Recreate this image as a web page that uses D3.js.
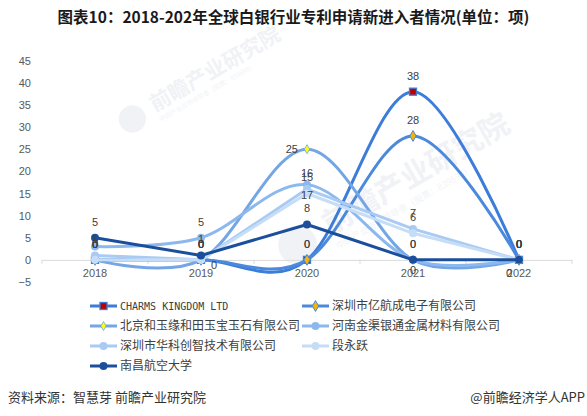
<!DOCTYPE html>
<html>
<head>
<meta charset="utf-8">
<script src="https://cdn.jsdelivr.net/npm/d3@7"></script>
<style>
  body { margin: 0; background: #fff; }
  svg { display: block; }
</style>
</head>
<body>
<div class="svgContainer"></div>
<script>
// Statics
var YEARS = ["2018", "2019", "2020", "2021", "2022"];
var Y_TICKS = [-5, 0, 5, 10, 15, 20, 25, 30, 35, 40, 45];
var NAMES = ["CHARMS KINGDOM LTD", "深圳市亿航成电子有限公司", "北京和玉缘和田玉宝玉石有限公司",
    "河南金渠银通金属材料有限公司", "深圳市华科创智技术有限公司", "段永跃", "南昌航空大学"];

// one array per applicant, values per year
var charms   = [0, 0, 0, 38, 0];
var yihang   = [0, 0, 0, 28, 0];
var beijing  = [0, 0, 25, 0, 0];
var henan    = [3, 5, 17, 0, 0];
var huake    = [1, 0, 16, 7, 0];
var duan     = [0, 0, 15, 6, 0];
var nanchang = [5, 1, 8, 0, 0];

// where the data label sits: t top, b bottom, l left, r right, bl bottom-left, "" none
var charmsLbl   = ["t", "t", "t", "t", "t"];
var yihangLbl   = ["t", "r", "t", "t", "t"];
var beijingLbl  = ["t", "t", "l", "b", "bl"];
var henanLbl    = ["", "t", "b", "t", "t"];
var huakeLbl    = ["t", "t", "t", "t", "t"];
var duanLbl     = ["t", "t", "t", "t", "t"];
var nanchangLbl = ["t", "t", "t", "t", "t"];
// End statics

var series = [
    {name: NAMES[0], values: charms, lbl: charmsLbl, color: "#3b7dd8", marker: "square", fill: "#c00000", smooth: true},
    {name: NAMES[1], values: yihang, lbl: yihangLbl, color: "#4a89dc", marker: "diamond", fill: "#f2b500", smooth: true},
    {name: NAMES[2], values: beijing, lbl: beijingLbl, color: "#74a6e6", marker: "dot", fill: "#ffff00", smooth: true},
    {name: NAMES[3], values: henan, lbl: henanLbl, color: "#8bb8ee", marker: "circle", fill: "#8bb8ee", smooth: true},
    {name: NAMES[4], values: huake, lbl: huakeLbl, color: "#a8caf3", marker: "circle", fill: "#a8caf3", smooth: false},
    {name: NAMES[5], values: duan, lbl: duanLbl, color: "#c6ddf8", marker: "circle", fill: "#c6ddf8", smooth: false},
    {name: NAMES[6], values: nanchang, lbl: nanchangLbl, color: "#1b4f9c", marker: "circle", fill: "#1b4f9c", smooth: false}
];

var W = 587, H = 416;
var svg = d3.select(".svgContainer").append("svg")
    .attr("width", W)
    .attr("height", H)
    .style("font-family", "'Liberation Sans', Arial, sans-serif");

svg.append("rect").attr("width", W).attr("height", H).attr("fill", "#fff");

// faint watermark
function watermark(x, y, size) {
    var g = svg.append("g").attr("transform", "translate(" + x + "," + y + ") rotate(-30)");
    g.append("circle").attr("cx", -size * 1.1).attr("cy", -size * 0.25).attr("r", size * 0.65).attr("fill", "#f0f2f6");
    g.append("text").attr("font-family", "'Noto Sans CJK SC', sans-serif")
        .attr("font-size", size).attr("font-weight", "bold").attr("fill", "#f0f2f6")
        .text("前瞻产业研究院");
    g.append("text").attr("y", size * 0.55).attr("font-family", "'Noto Sans CJK SC', sans-serif")
        .attr("font-size", size * 0.3).attr("fill", "#f2f4f7")
        .text("中国产业咨询领导者（股票：839599）");
}
watermark(155, 112, 21);
watermark(330, 235, 30);

// Title
svg.append("text")
    .attr("x", W / 2)
    .attr("y", 23)
    .attr("text-anchor", "middle")
    .attr("font-family", "'Noto Sans CJK SC', sans-serif")
    .attr("font-size", 15.5)
    .attr("font-weight", "bold")
    .attr("fill", "#1a1a1a")
    .text("图表10：2018-202年全球白银行业专利申请新进入者情况(单位：项)");

// Scales
var x = d3.scaleBand()
    .domain(YEARS)
    .range([42, 572])
    .padding(0);
var bw = x.bandwidth();
function cx(i) { return x(YEARS[i]) + bw / 2; }

var y = d3.scaleLinear()
    .domain([-5, 45])
    .range([282, 60.7]);

// Y axis (labels only)
var yAxis = svg.append("g")
    .attr("transform", "translate(42,0)")
    .call(d3.axisLeft(y).tickValues(Y_TICKS).tickSize(0).tickPadding(11));
yAxis.select(".domain").remove();
yAxis.selectAll("text")
    .attr("font-family", "'Liberation Sans', Arial, sans-serif")
    .attr("font-size", 11)
    .attr("fill", "#595959");

// X axis at y = 0
var xAxis = svg.append("g")
    .attr("transform", "translate(0," + y(0) + ")")
    .call(d3.axisBottom(x).tickSize(0).tickPadding(9));
xAxis.select(".domain").attr("stroke", "#d9d9d9");
xAxis.selectAll("text")
    .attr("font-family", "'Liberation Sans', Arial, sans-serif")
    .attr("font-size", 11)
    .attr("fill", "#595959");
var edges = YEARS.map(function(d) { return x(d); }).concat([x.range()[1]]);
svg.append("g").selectAll("line")
    .data(edges)
    .enter().append("line")
    .attr("x1", function(d) { return d; })
    .attr("x2", function(d) { return d; })
    .attr("y1", y(0))
    .attr("y2", y(0) + 4)
    .attr("stroke", "#d9d9d9");

// Lines
var smoothLine = d3.line()
    .x(function(d, i) { return cx(i); })
    .y(function(d) { return y(d); })
    .curve(d3.curveCardinal.tension(0));
var straightLine = d3.line()
    .x(function(d, i) { return cx(i); })
    .y(function(d) { return y(d); });

function drawMarker(g, s, px, py) {
    if (s.marker == "square") {
        g.append("rect").attr("x", px - 3.5).attr("y", py - 3.5).attr("width", 7).attr("height", 7)
            .attr("fill", s.fill).attr("stroke", s.color).attr("stroke-width", 1.3);
    } else if (s.marker == "diamond") {
        g.append("path").attr("d", d3.symbol().type(d3.symbolDiamond).size(34)())
            .attr("transform", "translate(" + px + "," + py + ")")
            .attr("fill", s.fill).attr("stroke", s.color).attr("stroke-width", 1);
    } else if (s.marker == "dot") {
        g.append("path").attr("d", d3.symbol().type(d3.symbolDiamond).size(24)())
            .attr("transform", "translate(" + px + "," + py + ")")
            .attr("fill", s.fill).attr("stroke", s.color).attr("stroke-width", 0.8);
    } else {
        g.append("circle").attr("cx", px).attr("cy", py).attr("r", 4)
            .attr("fill", s.fill);
    }
}

series.forEach(function(s) {
    var g = svg.append("g");
    g.append("path")
        .datum(s.values)
        .attr("d", s.smooth ? smoothLine : straightLine)
        .attr("fill", "none")
        .attr("stroke", s.color)
        .attr("stroke-width", 3)
        .attr("stroke-linecap", "round")
        .attr("stroke-linejoin", "round");
    s.values.forEach(function(v, i) {
        drawMarker(g, s, cx(i), y(v));
    });
});

// Data labels
var labels = svg.append("g")
    .attr("font-family", "'Liberation Sans', Arial, sans-serif")
    .attr("font-size", 11)
    .attr("fill", "#404040");
series.forEach(function(s) {
    s.values.forEach(function(v, i) {
        var pos = s.lbl[i];
        if (!pos) return;
        var px = cx(i), py = y(v);
        var t = labels.append("text").text(v);
        if (pos == "t") {
            t.attr("x", px).attr("y", py - 12).attr("text-anchor", "middle");
        } else if (pos == "b") {
            t.attr("x", px).attr("y", py + 14).attr("text-anchor", "middle");
        } else if (pos == "l") {
            t.attr("x", px - 9).attr("y", py + 4).attr("text-anchor", "end");
        } else if (pos == "r") {
            t.attr("x", px + 10).attr("y", py + 9).attr("text-anchor", "start");
        } else if (pos == "bl") {
            t.attr("x", px - 7).attr("y", py + 17).attr("text-anchor", "end");
        }
    });
});

// Legend
var legend = svg.append("g");
series.forEach(function(s, i) {
    var col = i % 2, row = Math.floor(i / 2);
    var lx = col == 0 ? 90 : 302;
    var ly = 306 + row * 20;
    var g = legend.append("g");
    g.append("line")
        .attr("x1", lx).attr("x2", lx + 27)
        .attr("y1", ly).attr("y2", ly)
        .attr("stroke", s.color).attr("stroke-width", 3);
    drawMarker(g, s, lx + 13.5, ly);
    var latin = /^[A-Z ]+$/.test(s.name);
    g.append("text")
        .attr("x", lx + 30)
        .attr("y", ly + 4)
        .attr("font-family", latin ? "'DejaVu Sans Mono', monospace" : "'Noto Sans CJK SC', sans-serif")
        .attr("font-size", latin ? 10 : 12)
        .attr("fill", "#404040")
        .text(s.name);
});

// Footer
svg.append("text")
    .attr("x", 8)
    .attr("y", 402)
    .attr("font-family", "'Noto Sans CJK SC', sans-serif")
    .attr("font-size", 13)
    .attr("fill", "#333")
    .text("资料来源：智慧芽 前瞻产业研究院");
svg.append("text")
    .attr("x", 585)
    .attr("y", 402)
    .attr("text-anchor", "end")
    .attr("font-family", "'Noto Sans CJK SC', sans-serif")
    .attr("font-size", 13)
    .attr("fill", "#333")
    .text("@前瞻经济学人APP");
</script>
</body>
</html>
